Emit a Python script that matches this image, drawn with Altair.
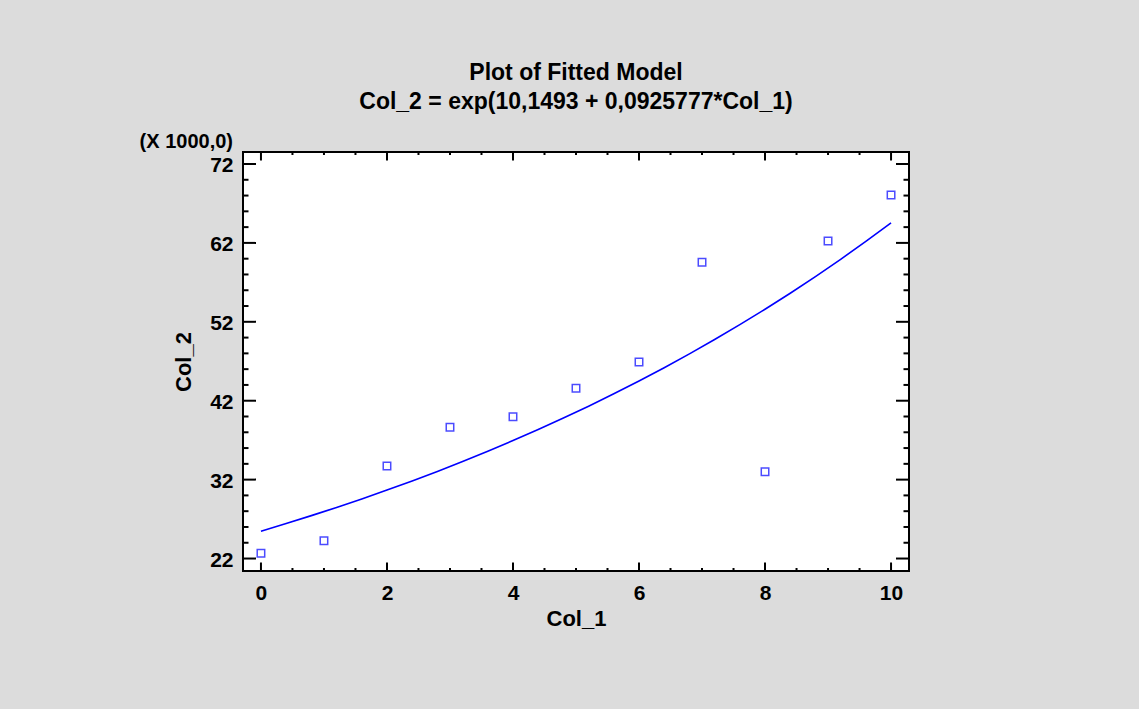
import altair as alt
import pandas as pd

# ---- data ----
col_1 = [0, 1, 2, 3, 4, 5, 6, 7, 8, 9, 10]
col_2 = [22.66, 24.26, 33.72, 38.63, 39.97, 43.57, 46.91, 59.54, 33.0, 62.24, 68.07]  # x 1000

x_major = [0, 2, 4, 6, 8, 10]
x_minor = [0.5, 1, 1.5, 2.5, 3, 3.5, 4.5, 5, 5.5, 6.5, 7, 7.5, 8.5, 9, 9.5]
y_major = [22, 32, 42, 52, 62, 72]
y_minor = [24, 26, 28, 30, 34, 36, 38, 40, 44, 46, 48, 50, 54, 56, 58, 60, 64, 66, 68, 70]
x_domain = [-0.285, 10.285]
y_domain = [20.42, 73.52]

title_lines = ["Plot of Fitted Model", "Col_2 = exp(10,1493 + 0,0925777*Col_1)"]
scale_note = "(X 1000,0)"

# ---- styling ----
W, H = 666, 419
FONT = "Liberation Sans"
BLUE = "#0000ff"
BG = "#dcdcdc"

pts = pd.DataFrame({"Col_1": col_1, "Col_2": col_2})
xs = alt.Scale(domain=x_domain, nice=False, zero=False)
ys = alt.Scale(domain=y_domain, nice=False, zero=False)

x_axis = alt.Axis(values=x_major, ticks=False, domain=False, grid=False, format="d",
                  labelFont=FONT, labelFontSize=21, labelFontWeight="bold", labelColor="black",
                  labelPadding=11, labelFlush=False, labelOverlap=False,
                  title="Col_1", titleFont=FONT, titleFontSize=22, titleFontWeight="bold",
                  titleColor="black", titlePadding=5)
y_axis = alt.Axis(values=y_major, ticks=False, domain=False, grid=False, format="d",
                  labelFont=FONT, labelFontSize=21, labelFontWeight="bold", labelColor="black",
                  labelPadding=10, labelOffset=2, labelFlush=False, labelOverlap=False,
                  title="Col_2", titleFont=FONT, titleFontSize=22, titleFontWeight="bold",
                  titleColor="black", titlePadding=14)

base = alt.Chart(pts)

points = base.mark_point(shape="square", filled=False, color=BLUE, size=56, strokeWidth=1.5).encode(
    x=alt.X("Col_1:Q", scale=xs, axis=x_axis),
    y=alt.Y("Col_2:Q", scale=ys, axis=y_axis),
)

fit_line = (
    base.transform_calculate(ly="log(datum.Col_2)")
    .transform_regression("Col_1", "ly", method="poly", order=1)
    .transform_calculate(fit="exp(datum.ly)")
    .mark_line(color=BLUE, strokeWidth=1.6)
    .encode(
        x=alt.X("Col_1:Q", scale=xs, axis=x_axis),
        y=alt.Y("fit:Q", scale=ys, axis=y_axis),
    )
)

def tick_df(vals):
    return pd.DataFrame({"v": vals})

TW = 2
def y_ticks(vals, length):
    d = alt.Chart(tick_df(vals))
    left = d.mark_rule(color="black", strokeWidth=TW).encode(
        y=alt.Y("v:Q", scale=ys, axis=y_axis), x=alt.value(0), x2=alt.value(length))
    right = d.mark_rule(color="black", strokeWidth=TW).encode(
        y=alt.Y("v:Q", scale=ys, axis=y_axis), x=alt.value(W), x2=alt.value(W - length))
    return [left, right]

def x_ticks(vals, length):
    d = alt.Chart(tick_df(vals))
    bottom = d.mark_rule(color="black", strokeWidth=TW).encode(
        x=alt.X("v:Q", scale=xs, axis=x_axis), y=alt.value(H), y2=alt.value(H - length))
    top = d.mark_rule(color="black", strokeWidth=TW).encode(
        x=alt.X("v:Q", scale=xs, axis=x_axis), y=alt.value(0), y2=alt.value(length))
    return [bottom, top]

ticks = y_ticks(y_major, 13) + y_ticks(y_minor, 5.5) + x_ticks(x_major, 8.5) + x_ticks(x_minor, 3)

note = alt.Chart(pd.DataFrame({"t": [scale_note]})).mark_text(
    align="right", baseline="alphabetic", font=FONT, fontSize=20, fontWeight="bold", color="black"
).encode(text="t:N", x=alt.value(-10), y=alt.value(-4))

chart = alt.layer(fit_line, points, *ticks, note).properties(
    width=W,
    height=H,
    autosize=alt.AutoSizeParams(type="none"),
    padding={"left": 243, "top": 152, "right": 230, "bottom": 138},
    background=BG,
    title=alt.TitleParams(text=title_lines, font=FONT, fontSize=23, fontWeight="bold",
                          color="black", anchor="middle", frame="group", lineHeight=29,
                          baseline="bottom", offset=-5),
).configure_view(stroke="black", strokeWidth=2, fill="white")

chart.save("out.html", embed_options={"renderer": "svg", "actions": False})
